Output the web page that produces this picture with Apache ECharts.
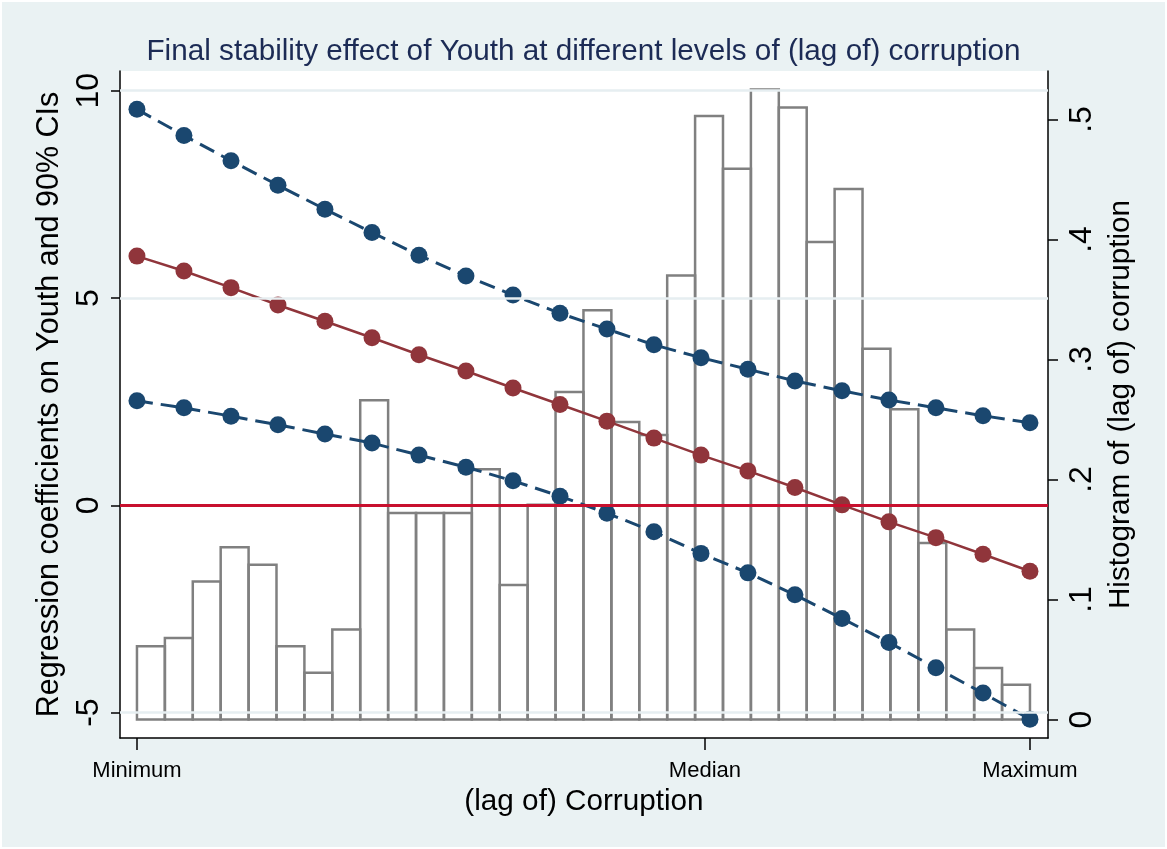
<!DOCTYPE html>
<html>
<head>
<meta charset="utf-8">
<script src="https://cdn.jsdelivr.net/npm/echarts@6/dist/echarts.min.js"></script>
<style>
  html, body { margin: 0; padding: 0; background: #ffffff; }
  #chart { position: absolute; left: 2px; top: 2px; width: 1163px; height: 845px; background: #EAF2F3; }
</style>
</head>
<body>
<div id="chart"></div>
<script>
// ---- Data ----
// Evaluation points as a fraction of the corruption range (Minimum = 0, Maximum = 1)
const evalX = [0, 0.0526, 0.1053, 0.1579, 0.2105, 0.2632, 0.3158, 0.3684, 0.4211, 0.4737,
               0.5263, 0.5789, 0.6316, 0.6842, 0.7368, 0.7895, 0.8421, 0.8947, 0.9474, 1];
const estimate = [6.01, 5.65, 5.25, 4.83, 4.44, 4.04, 3.63, 3.24, 2.83, 2.43,
                  2.03, 1.62, 1.21, 0.83, 0.43, 0.01, -0.40, -0.78, -1.18, -1.59];
const upperCI = [9.55, 8.92, 8.31, 7.72, 7.14, 6.58, 6.03, 5.53, 5.07, 4.63,
                 4.25, 3.87, 3.56, 3.28, 3.00, 2.76, 2.54, 2.35, 2.16, 1.99];
const lowerCI = [2.52, 2.35, 2.15, 1.94, 1.72, 1.50, 1.21, 0.92, 0.59, 0.22,
                 -0.19, -0.64, -1.16, -1.63, -2.16, -2.73, -3.31, -3.92, -4.53, -5.16];
// Histogram densities of (lag of) corruption, 32 equal-width bins from Minimum to Maximum
const histDensity = [0.061, 0.068, 0.115, 0.1435, 0.129, 0.061, 0.039, 0.075,
                     0.266, 0.172, 0.172, 0.172, 0.2085, 0.112, 0.179, 0.273,
                     0.341, 0.248, 0.237, 0.370, 0.503, 0.459, 0.525, 0.510,
                     0.398, 0.442, 0.309, 0.2585, 0.147, 0.075, 0.043, 0.029];
const medianPos = 0.636;
const xTickValues = [0, medianPos, 1];
const xTickLabels = ['Minimum', 'Median', 'Maximum'];
const leftTicks = [-5, 0, 5, 10];
const rightTicks = [0, 0.1, 0.2, 0.3, 0.4, 0.5];

const titleText = 'Final stability effect of Youth at different levels of (lag of) corruption';
const xTitle = '(lag of) Corruption';
const yLeftTitle = 'Regression coefficients on Youth and 90% CIs';
const yRightTitle = 'Histogram of (lag of) corruption';

// ---- Build ----
const nBins = histDensity.length;
const histData = histDensity.map((d, k) => [k / nBins, (k + 1) / nBins, d]);
const pts = arr => arr.map((v, i) => [evalX[i], v]);

const FONT = "'Liberation Sans', Arial, Helvetica, sans-serif";
const NAVY = '#1A476F';
const MAROON = '#90353B';

const chart = echarts.init(document.getElementById('chart'), null, { renderer: 'canvas' });

const option = {
  animation: false,
  backgroundColor: '#EAF2F3',
  textStyle: { fontFamily: FONT },
  title: {
    text: titleText,
    left: 'center',
    top: 30,
    textStyle: { fontFamily: FONT, fontSize: 29.7, fontWeight: 'normal', color: '#1C2B55' }
  },
  grid: {
    left: 118, right: 117, top: 69, bottom: 109,
    show: true, backgroundColor: '#ffffff', borderWidth: 0
  },
  xAxis: {
    type: 'value',
    min: -0.019, max: 1.0202,
    name: xTitle,
    nameLocation: 'middle',
    nameGap: 41,
    nameTextStyle: { fontFamily: FONT, fontSize: 29.7, color: '#000' },
    axisLine: { show: true, onZero: false, lineStyle: { color: '#000', width: 1.5 } },
    axisTick: { show: true, length: 12, customValues: xTickValues, lineStyle: { color: '#000', width: 1.5 } },
    axisLabel: {
      customValues: xTickValues, fontSize: 22, color: '#000', margin: 22, fontFamily: FONT,
      formatter: v => {
        const i = xTickValues.findIndex(t => Math.abs(t - v) < 1e-6);
        return i >= 0 ? xTickLabels[i] : '';
      }
    },
    splitLine: { show: false }
  },
  yAxis: [
    {
      type: 'value',
      position: 'left',
      min: -5.613, max: 10.475,
      name: yLeftTitle,
      nameLocation: 'middle',
      nameRotate: 90,
      nameGap: 48,
      nameTextStyle: { fontFamily: FONT, fontSize: 30.5, color: '#000' },
      axisLine: { show: true, onZero: false, lineStyle: { color: '#000', width: 1.5 } },
      axisTick: { show: true, length: 9, customValues: leftTicks, lineStyle: { color: '#000', width: 1.5 } },
      axisLabel: { customValues: leftTicks, rotate: 90, fontSize: 32, color: '#000', margin: 15, fontFamily: FONT },
      splitLine: { show: false }
    },
    {
      type: 'value',
      position: 'right',
      min: -0.01542, max: 0.54042,
      name: yRightTitle,
      nameLocation: 'middle',
      nameRotate: 90,
      nameGap: 45,
      nameTextStyle: { fontFamily: FONT, fontSize: 29.7, color: '#000' },
      axisLine: { show: true, onZero: false, lineStyle: { color: '#000', width: 1.5 } },
      axisTick: { show: true, length: 10, customValues: rightTicks, lineStyle: { color: '#000', width: 1.5 } },
      axisLabel: {
        customValues: rightTicks, rotate: 90, fontSize: 32, color: '#000', margin: 18, fontFamily: FONT,
        formatter: v => (Math.abs(v) < 1e-9 ? '0' : String(Math.round(v * 10) / 10).replace(/^0/, ''))
      },
      splitLine: { show: false }
    }
  ],
  series: [
    {
      name: 'gridlines',
      type: 'line',
      yAxisIndex: 0,
      data: [],
      z: 1,
      silent: true,
      markLine: {
        silent: true, symbol: 'none', label: { show: false },
        lineStyle: { color: '#E6EEF1', width: 2.5, type: 'solid' },
        data: leftTicks.filter(v => v !== 0).map(v => ({ yAxis: v }))
      }
    },
    {
      name: 'histogram',
      type: 'custom',
      yAxisIndex: 1,
      z: 2,
      silent: true,
      data: histData,
      renderItem: (params, api) => {
        const p0 = api.coord([api.value(0), api.value(2)]);
        const p1 = api.coord([api.value(1), 0]);
        return {
          type: 'rect',
          shape: { x: p0[0], y: p0[1], width: p1[0] - p0[0], height: p1[1] - p0[1] },
          style: { fill: 'none', stroke: '#808080', lineWidth: 2.5 }
        };
      }
    },
    {
      name: 'zero',
      type: 'line',
      yAxisIndex: 0,
      data: [],
      z: 3,
      silent: true,
      markLine: {
        silent: true, symbol: 'none', label: { show: false },
        lineStyle: { color: '#C8102E', width: 3, type: 'solid' },
        data: [{ yAxis: 0 }]
      }
    },
    {
      name: 'Upper 90% CI',
      type: 'line',
      yAxisIndex: 0,
      z: 4,
      data: pts(upperCI),
      symbol: 'circle', symbolSize: 17,
      itemStyle: { color: NAVY },
      lineStyle: { color: NAVY, width: 3, type: [16, 8] }
    },
    {
      name: 'Estimate',
      type: 'line',
      yAxisIndex: 0,
      z: 4,
      data: pts(estimate),
      symbol: 'circle', symbolSize: 17,
      itemStyle: { color: MAROON },
      lineStyle: { color: MAROON, width: 2.5 }
    },
    {
      name: 'Lower 90% CI',
      type: 'line',
      yAxisIndex: 0,
      z: 4,
      data: pts(lowerCI),
      symbol: 'circle', symbolSize: 17,
      itemStyle: { color: NAVY },
      lineStyle: { color: NAVY, width: 3, type: [16, 8] }
    }
  ]
};
chart.setOption(option);
</script>
</body>
</html>
